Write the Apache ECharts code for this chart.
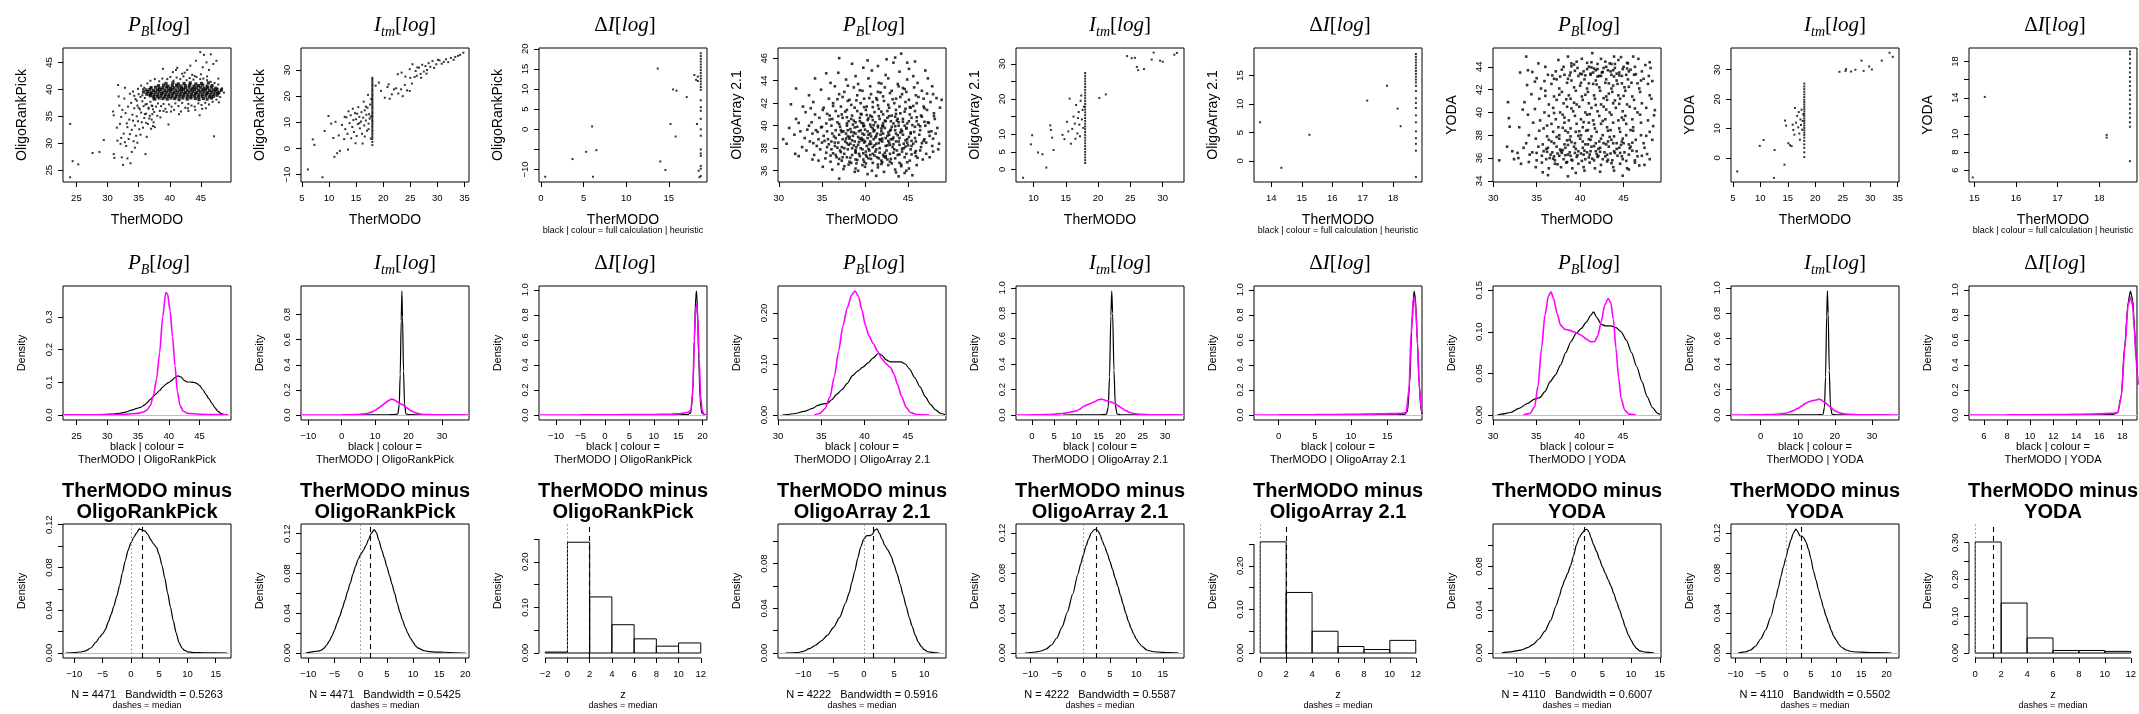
<!DOCTYPE html>
<html><head><meta charset="utf-8">
<script src="https://cdn.jsdelivr.net/npm/echarts@6.0.0/dist/echarts.min.js"></script>
<style>html,body{margin:0;padding:0;background:#fff}#c{width:2139px;height:714px}</style>
</head><body><div id="c"></div><script>
// ---------- names / texts ----------
const comparators = ['OligoRankPick', 'OligoArray 2.1', 'YODA'];
const measures = ['PB', 'Itm', 'DI'];
const bottomLines = ['N = 4471   Bandwidth = 0.5263', 'N = 4471   Bandwidth = 0.5425', 'z',
  'N = 4222   Bandwidth = 0.5916', 'N = 4222   Bandwidth = 0.5587', 'z',
  'N = 4110   Bandwidth = 0.6007', 'N = 4110   Bandwidth = 0.5502', 'z'];

// ---------- row 1: scatter values (flat x,y lists) ----------
const sc_orp_pb = [24.0,33.6,24.0,23.7,24.4,26.7,25.3,26.1,27.6,28.2,28.7,28.4,29.4,30.6,30.9,35.9,31.0,35.2,31.0,28.0,31.1,27.3,31.5,32.9,31.6,30.5,31.7,40.8,31.8,38.7,32.0,33.6,32.1,29.9,32.2,34.9,32.3,27.4,32.4,36.2,32.5,26.0,32.6,31.8,32.7,38.3,32.8,30.2,32.9,35.6,33.0,29.5,33.1,33.7,33.2,27.2,33.3,36.8,33.4,30.8,33.5,34.4,33.6,31.7,33.7,26.3,33.8,37.5,33.9,32.5,34.0,35.3,34.1,39.6,34.2,30.4,34.3,36.5,34.4,33.3,34.5,38.2,34.6,31.4,34.7,35.0,34.8,37.0,34.9,34.1,35.0,39.1,35.1,32.6,35.2,36.3,35.3,38.6,35.4,35.7,35.5,33.9,35.6,37.8,35.7,40.0,35.8,36.9,35.9,34.7,36.0,38.4,36.1,28.0,36.2,35.5,36.3,37.3,36.4,39.4,36.5,33.6,36.6,36.4,36.7,38.9,36.8,35.1,36.9,37.7,37.0,40.4,37.1,34.4,37.2,36.9,37.3,33.2,37.4,38.2,37.5,35.8,37.6,33.0,
35.6,38.9,35.9,40.3,36.1,37.2,36.4,41.1,36.6,36.6,36.9,41.6,37.1,37.0,37.3,36.3,37.6,41.9,37.8,36.8,38.1,37.4,38.3,41.5,38.6,36.9,38.8,42.0,39.0,37.3,39.3,36.4,39.6,41.9,39.9,37.2,40.1,42.3,40.3,36.8,40.6,41.6,40.9,37.4,41.1,42.2,41.4,36.9,41.7,41.9,42.0,37.5,42.2,42.4,42.5,36.6,42.7,41.7,43.0,37.3,43.2,42.1,43.5,37.0,43.8,41.8,44.0,36.8,44.3,42.3,44.6,37.4,44.9,41.9,45.1,37.1,45.4,42.0,45.7,37.5,46.0,41.7,46.3,37.2,46.6,41.4,46.9,37.7,47.2,41.2,47.5,38.1,47.8,40.9,48.1,38.6,48.4,40.2,48.7,39.4,48.2,39.8,47.9,37.6,45.2,36.4,44.1,36.2,42.9,36.5,41.8,35.9,40.7,36.2,39.5,35.8,38.4,36.0,37.2,35.4,36.7,34.6,36.2,33.8,35.7,32.9,35.3,31.6,34.8,30.1,34.4,29.2,33.9,28.4,36.3,31.2,37.0,32.7,37.4,33.9,38.0,35.1,35.0,36.6,34.7,37.9,34.3,38.8,34.9,40.1,35.4,40.7,33.6,39.2,32.8,40.3,31.9,37.0,32.2,31.0,33.2,33.0,34.1,34.2,36.0,35.4,38.9,43.8,42.4,43.1,41.0,43.6,
40.5,43.2,41.2,44.0,42.0,42.9,42.8,43.6,43.3,44.4,43.6,42.7,44.2,45.3,44.9,46.9,45.3,44.1,45.5,46.4,45.9,45.0,46.3,43.6,46.6,46.5,47.0,44.7,47.5,45.3,44.0,42.5,45.0,42.8,46.0,42.4,47.8,42.0,47.1,31.3,44.8,35.2,41.5,35.4,43.0,36.0,45.8,36.5,39.0,36.0,40.2,35.9,38.5,34.8,39.8,33.5];
const sc_orp_pb_core = [37.6,38.2,38.3,38.4,38.9,38.3,39.6,38.2,40.2,38.4,40.8,38.3,41.5,38.1,42.1,38.4,42.8,38.2,43.4,38.4,44.1,38.3,44.7,38.1,45.4,38.3,46.0,38.2,46.7,38.4,
36.9,38.8,37.4,38.6,38.0,38.7,38.6,38.8,39.2,38.6,39.8,38.7,40.4,38.8,41.0,38.6,41.6,38.7,42.2,38.8,42.8,38.6,43.4,38.7,44.0,38.8,44.6,38.6,45.2,38.7,45.8,38.8,46.4,38.6,47.0,38.7,47.6,38.9,
36.3,39.1,36.9,39.2,37.5,39.0,38.1,39.1,38.7,39.2,39.3,39.0,39.9,39.1,40.5,39.2,41.1,39.0,41.7,39.1,42.3,39.2,42.9,39.0,43.5,39.1,44.1,39.2,44.7,39.0,45.3,39.1,45.9,39.2,46.5,39.0,47.1,39.1,47.7,39.3,
35.8,39.5,36.5,39.6,37.1,39.4,37.7,39.5,38.3,39.6,38.9,39.4,39.5,39.5,40.1,39.6,40.7,39.4,41.3,39.5,41.9,39.6,42.5,39.4,43.1,39.5,43.7,39.6,44.3,39.4,44.9,39.5,45.5,39.6,46.1,39.4,46.7,39.5,47.3,39.6,47.9,39.4,
36.2,39.9,36.8,40.0,37.4,39.8,38.0,39.9,38.6,40.0,39.2,39.8,39.8,39.9,40.4,40.0,41.0,39.8,41.6,39.9,42.2,40.0,42.8,39.8,43.4,39.9,44.0,40.0,44.6,39.8,45.2,39.9,45.8,40.0,46.4,39.8,47.0,39.9,47.6,40.0,48.3,39.9,
37.0,40.3,37.7,40.4,38.3,40.2,38.9,40.3,39.5,40.4,40.1,40.2,40.7,40.3,41.3,40.4,41.9,40.2,42.5,40.3,43.1,40.4,43.7,40.2,44.3,40.3,44.9,40.4,45.5,40.2,46.1,40.3,46.7,40.4,47.4,40.2,
38.2,40.7,39.0,40.8,39.7,40.6,40.4,40.7,41.1,40.8,41.8,40.6,42.5,40.7,43.2,40.8,43.9,40.6,44.6,40.7,45.3,40.8,46.0,40.6,46.8,40.7,
39.4,41.1,40.5,41.2,41.4,41.0,42.3,41.1,43.3,41.2,44.2,41.0,45.1,41.1,46.2,41.2];
const sc_orp_itm = [6.1,-8.0,7.0,3.5,7.3,1.4,8.8,-11.0,9.2,6.7,9.9,12.4,10.4,9.5,11.0,-3.2,11.5,-1.8,11.8,5.0,12.0,-0.9,12.4,9.0,12.8,3.6,13.0,7.4,13.2,11.9,13.4,5.6,13.5,-0.4,13.8,9.7,14.0,12.7,14.1,3.9,14.3,8.2,14.5,10.9,14.6,6.3,14.8,13.5,15.0,11.2,15.1,4.8,15.3,9.3,15.4,15.8,15.6,12.1,15.7,7.7,15.9,10.3,16.0,13.9,16.1,5.6,16.3,11.8,16.4,17.9,16.5,8.8,16.6,14.6,16.8,10.7,16.9,12.9,17.0,6.8,17.1,15.6,17.2,20.5,17.3,9.5,17.4,13.1,17.5,11.4,17.6,16.8,17.7,3.8,17.7,12.2,17.8,18.9,12.9,12.1,13.6,14.2,14.9,2.0,16.2,1.9,11.2,10.2,10.8,4.0,15.6,9.7,16.6,4.6,17.3,7.4,14.4,15.2,15.2,13.3,16.8,16.0,
18,1.3,18,2.5,18,3.6,18,4.4,18,5.2,18,5.9,18,6.7,18,7.3,18,8.0,18,8.6,18,9.3,18,9.9,18,10.5,18,11.1,18,11.8,18,12.4,18,13.0,18,13.6,18,14.2,18,14.9,18,15.5,18,16.1,18,16.7,18,17.4,18,18.0,18,18.6,18,19.2,18,19.9,18,20.5,18,21.1,18,21.8,18,22.4,18,23.0,18,23.7,18,24.3,18,25.0,18,25.7,18,26.4,18,27.0,
18.6,24.0,19.2,25.2,19.6,22.0,20.3,19.4,20.8,23.5,21.2,19.0,21.6,20.7,22.0,22.6,22.4,23.0,22.8,21.0,23.3,22.6,23.6,20.0,24.0,24.3,24.4,22.2,24.9,22.0,25.3,24.8,22.7,28.4,23.4,29.0,24.1,27.5,24.9,30.3,25.4,32.2,25.8,27.3,26.0,29.6,26.3,31.0,26.6,30.9,26.9,28.5,27.2,32.0,27.5,29.4,27.8,31.5,28.1,30.0,28.4,32.6,28.7,31.2,29.1,33.4,29.4,30.8,29.8,32.2,30.1,33.9,30.4,33.7,30.8,32.4,31.2,33.1,31.6,34.1,32.0,33.0,32.5,34.6,33.0,33.9,33.3,35.0,33.8,35.4,34.2,35.8,34.8,36.6,21.0,24.5,26.2,27.8,25.0,27.0,27.0,27.0,28.0,28.6];
const sc_orp_di = [0.5,-11.8,3.7,-7.4,5.3,-5.6,6.0,0.7,6.1,-11.8,6.5,-5.2,13.7,15.1,14.0,-8.0,14.6,-10.1,15.2,1.3,15.5,9.9,15.9,9.6,15.8,-1.8,17.1,8.0,18.0,13.5,18.2,12.3,18.4,12.0,18.3,1.3,18.4,13.1,18.5,-10.3,18.6,-11.9,
18.75,9.8,18.75,10.5,18.75,11.2,18.75,11.9,18.75,12.6,18.75,13.3,18.75,14.0,18.75,14.7,18.75,15.4,18.75,16.1,18.75,16.8,18.75,17.5,18.75,18.2,18.75,18.9,
18.75,7.2,18.75,5.5,18.75,4.6,18.75,2.6,18.75,0.0,18.75,-1.6,18.75,-5.0,18.75,-6.0,18.75,-6.6,18.75,-9.1,18.75,-9.8,18.75,-11.6];
const sc_oa_pb = [37.0,35.3,44.6,35.8,40.3,35.7,43.9,35.5,42.2,35.9,38.8,35.9,45.5,35.6,
36.2,36.1,37.6,36.4,38.9,36.2,39.7,36.5,40.8,36.0,41.5,36.3,42.7,36.5,43.5,36.1,44.2,36.4,45.1,36.2,46.0,36.5,39.2,36.0,41.9,36.6,44.8,36.0,36.9,36.6,
34.6,36.9,35.4,37.1,36.0,36.8,36.7,37.2,37.3,36.9,37.9,37.2,38.4,36.7,38.9,37.0,39.4,37.3,39.9,36.8,40.4,37.1,40.9,36.7,41.4,37.2,41.9,36.9,42.4,37.3,42.9,36.8,43.5,37.1,44.0,36.7,44.6,37.2,45.2,36.9,45.9,37.3,46.7,37.0,47.5,37.2,32.3,37.3,33.9,37.0,
31.9,37.5,33.2,37.8,34.1,37.4,34.8,37.9,35.5,37.6,36.1,37.9,36.6,37.4,37.1,37.8,37.6,37.5,38.0,37.9,38.5,37.4,38.9,37.7,39.3,37.5,39.7,37.9,40.1,37.4,40.5,37.8,40.9,37.5,41.3,37.9,41.7,37.6,42.1,37.4,42.5,37.8,42.9,37.5,43.4,37.9,43.8,37.4,44.3,37.7,44.8,37.5,45.3,37.9,45.8,37.6,46.4,37.8,47.1,37.5,47.9,37.7,48.5,37.9,
30.9,38.4,32.7,38.1,33.6,38.6,34.4,38.2,35.0,38.5,35.6,38.1,36.1,38.6,36.5,38.2,36.9,38.5,37.3,38.1,37.7,38.6,38.1,38.3,38.5,38.0,38.8,38.6,39.2,38.3,39.5,38.0,39.9,38.5,40.2,38.2,40.6,38.6,40.9,38.1,41.3,38.4,41.7,38.0,42.0,38.6,42.4,38.2,42.8,38.5,43.2,38.1,43.6,38.6,44.0,38.3,44.5,38.0,44.9,38.5,45.4,38.2,45.9,38.6,46.5,38.1,47.1,38.5,47.8,38.2,48.6,38.4,
30.5,38.8,31.8,39.2,33.0,38.9,33.9,39.3,34.6,38.8,35.2,39.1,35.7,38.8,36.2,39.3,36.6,38.9,37.0,39.2,37.4,38.8,37.8,39.3,38.2,39.0,38.5,38.7,38.9,39.3,39.2,39.0,39.6,38.7,39.9,39.2,40.3,38.9,40.6,39.3,41.0,38.8,41.3,39.1,41.7,38.8,42.1,39.3,42.4,38.9,42.8,39.2,43.2,38.8,43.6,39.3,44.0,38.9,44.4,39.2,44.9,38.8,45.3,39.3,45.8,38.9,46.3,39.2,46.9,38.8,47.5,39.1,48.2,39.3,
31.2,39.8,32.5,39.5,33.5,40.0,34.3,39.6,35.0,39.9,35.6,39.5,36.1,40.0,36.6,39.6,37.1,39.9,37.5,39.5,37.9,40.0,38.3,39.7,38.7,39.4,39.1,39.9,39.5,39.6,39.9,40.0,40.3,39.5,40.7,39.9,41.1,39.6,41.5,40.0,41.9,39.5,42.3,39.8,42.7,39.4,43.1,39.9,43.5,39.6,43.9,40.0,44.3,39.5,44.8,39.8,45.3,39.4,45.8,39.9,46.4,39.6,47.0,40.0,47.7,39.5,48.4,39.8,
32.0,40.6,33.8,40.3,34.7,40.7,35.5,40.2,36.2,40.6,36.8,40.3,37.4,40.7,37.9,40.2,38.4,40.6,38.9,40.3,39.4,40.7,39.8,40.2,40.3,40.5,40.8,40.8,41.2,40.3,41.7,40.6,42.1,40.2,42.6,40.7,43.0,40.4,43.5,40.8,43.9,40.3,44.4,40.6,44.9,40.2,45.4,40.7,46.0,40.4,46.6,40.8,47.3,40.3,48.1,40.6,
31.4,41.9,33.1,41.2,34.2,41.0,35.1,41.4,35.9,40.9,36.6,41.3,37.3,41.0,37.9,41.4,38.5,40.9,39.1,41.3,39.6,41.0,40.1,41.4,40.6,40.9,41.1,41.2,41.6,41.5,42.1,41.0,42.6,41.3,43.1,40.9,43.6,41.4,44.1,41.1,44.7,41.5,45.2,41.0,45.8,41.3,46.5,40.9,47.2,41.4,48.0,41.1,
32.8,41.7,34.0,42.1,35.2,41.6,36.3,42.0,37.2,41.7,38.0,42.2,38.8,41.6,39.5,42.0,40.2,41.7,40.9,42.1,41.5,41.8,42.2,42.2,42.8,41.6,43.4,42.0,44.0,41.7,44.7,42.1,45.3,41.6,46.0,42.0,46.8,41.7,47.6,42.1,48.7,41.6,
33.5,42.7,35.8,42.4,37.0,42.8,38.2,42.3,39.1,42.7,39.9,42.4,40.7,42.8,41.4,42.3,42.1,42.6,42.9,42.9,43.6,42.4,44.3,42.8,45.1,42.3,45.9,42.7,46.8,42.4,47.9,42.8,48.9,42.3,
34.9,43.2,36.5,43.5,37.6,43.0,38.7,43.4,39.7,43.1,40.6,43.5,41.5,43.0,42.3,43.4,43.1,43.1,43.9,43.5,44.8,43.0,45.7,43.4,46.6,43.1,47.8,43.5,32.0,43.3,
34.2,44.2,36.0,43.8,37.8,44.1,39.2,43.7,40.4,44.2,41.6,43.8,42.7,44.2,43.8,43.7,44.9,44.1,46.1,43.8,47.3,44.2,
36.9,44.7,38.9,44.4,40.8,44.9,42.4,44.5,44.0,44.8,45.6,44.4,47.0,44.9,
37.0,46.0,38.5,45.5,41.5,45.3,43.3,45.6,44.2,46.4,44.9,45.6,45.8,45.7,42.5,45.9,40.3,45.8,
38.3,38.4,39.0,38.1,39.6,38.9,40.1,37.7,40.7,38.4,41.2,37.7,41.8,38.7,42.3,37.6,43.0,38.8,43.7,37.8,38.0,39.6,38.6,40.1,39.3,39.5,40.0,38.6,40.6,40.1,41.4,39.3,42.0,40.0,42.6,39.1,43.3,40.2,44.1,39.4,37.6,38.0,38.9,37.6,39.8,37.0,40.6,37.4,41.6,37.1,42.6,37.0,43.3,37.6,44.5,38.4,45.1,39.0,45.6,38.4,36.5,38.5,37.2,39.6,38.1,40.4,39.4,40.4,40.9,40.5,42.4,40.4,43.8,40.6,44.6,40.0,45.1,40.4,46.2,40.1,38.6,39.1,39.7,39.3,40.4,39.2,41.0,39.5,41.8,39.2,42.9,38.3,43.9,38.6,44.7,38.7,37.4,37.2,38.2,36.8,
36.8,38.05,37.9,38.45,38.7,38.25,39.4,38.85,40.0,39.65,40.5,38.35,41.2,38.95,41.9,39.75,42.6,38.25,43.3,38.95,44.2,39.65,45.0,38.25,45.7,39.45,46.6,38.45,37.3,39.45,38.0,39.05,38.8,39.85,39.6,40.25,40.4,40.65,41.0,40.05,41.6,40.85,42.3,40.45,43.0,39.65,43.7,40.45,44.6,41.25,45.5,40.05,36.9,40.85,37.7,41.25,38.3,37.15,39.0,36.65,39.8,37.55,40.7,37.05,41.5,36.55,42.2,37.25,43.1,36.65,44.0,37.45,44.9,36.75,36.0,37.35,35.3,38.65,34.5,39.45,35.9,40.55,36.8,42.35,38.4,41.85,39.9,41.65,41.3,42.45,42.7,41.85,44.1,42.55,45.6,41.75,46.9,40.35,47.4,39.45,47.9,38.85,46.1,37.15,40.0,36.35,37.5,36.15,35.1,36.35,43.6,35.85,41.3,35.55,39.4,43.15,41.9,43.75,44.4,43.35,46.2,42.55,38.0,43.55,36.3,41.75,33.7,41.55,34.0,38.45,33.3,39.65,32.3,40.25,48.0,40.85,48.3,42.45,47.2,42.85,35.5,44.65,43.5,46.05,39.8,45.15,45.1,45.05,
37.2,37.65,37.8,38.85,38.4,39.45,38.9,37.85,39.3,38.55,39.8,39.95,40.2,37.25,40.7,39.05,41.1,38.25,41.5,39.85,42.0,38.85,42.4,37.15,42.9,39.55,43.3,38.35,43.8,39.15,44.3,37.95,44.8,39.75,45.4,38.65,45.9,37.75,46.4,39.95,37.0,40.15,37.9,40.75,38.7,40.45,39.5,41.05,40.2,40.95,40.9,41.65,41.9,41.25,42.8,40.85,43.6,41.05,44.4,40.35,45.2,41.65,46.0,40.75,36.4,39.05,35.8,38.35,36.3,37.55,37.0,37.05,38.1,36.55,39.1,36.95,40.1,36.65,41.1,37.35,42.0,36.75,43.0,37.05,44.2,36.55,45.4,37.45,46.8,38.65,47.4,40.25,46.9,41.55,39.0,42.25,40.5,42.45,41.8,42.95,43.2,42.35,44.6,43.25,37.4,42.55,35.6,41.05,34.9,39.85,39.8,38.75,40.9,39.75,42.1,39.95,43.5,39.95,38.2,38.85,41.6,38.45,44.7,38.15,40.4,37.95,42.7,38.65];
const sc_oa_itm = [8.4,-2.4,9.8,9.7,9.6,7.1,10.7,4.8,11.4,4.3,12.0,0.5,12.6,12.5,12.7,11.2,12.9,9.0,13.1,5.5,14.5,9.8,14.8,8.6,15.2,13.5,15.6,20.1,15.8,7.3,16.0,11.5,16.2,15.0,16.4,13.0,16.6,18.3,16.8,10.2,17.0,16.3,17.1,12.7,17.2,9.4,17.3,19.5,17.5,14.2,17.6,16.9,17.7,11.8,17.4,21.0,16.9,14.6,16.5,8.7,15.4,10.8,17.8,17.8,
18,1.8,18,2.6,18,3.4,18,4.2,18,5.0,18,5.8,18,6.6,18,7.4,18,8.2,18,9.0,18,9.8,18,10.6,18,11.4,18,12.2,18,13.0,18,13.8,18,14.6,18,15.4,18,16.2,18,17.0,18,17.8,18,18.6,18,19.4,18,20.2,18,21.0,18,21.8,18,22.6,18,23.4,18,24.2,18,25.0,18,25.8,18,26.6,18,27.4,
20.2,20.3,21.2,21.3,24.5,32.2,25.2,31.6,25.7,31.7,26.0,29.1,26.2,28.2,27.1,28.5,28.3,31.2,28.6,33.2,29.6,30.9,30.0,30.6,31.8,32.6,32.2,33.1];
const sc_oa_di = [13.63,6.8,14.33,-1.2,15.25,4.6,17.15,10.6,17.8,13.2,18.15,9.2,18.25,6.1,
18.75,13.8,18.75,14.3,18.75,14.8,18.75,15.3,18.75,15.8,18.75,16.3,18.75,16.8,18.75,17.3,18.75,17.8,18.75,18.3,18.75,18.8,
18.75,13.2,18.75,12.3,18.75,11.0,18.75,10.2,18.75,9.3,18.75,8.0,18.75,6.8,18.75,5.2,18.75,4.0,18.75,3.0,18.75,1.8,18.75,-2.8];
const sc_yoda_pb = [36.3,34.5,38.6,34.4,40.5,34.9,42.3,34.8,43.9,34.9,45.6,35.0,39.5,34.7,
33.2,35.5,34.9,35.2,35.6,35.6,36.4,35.1,37.1,35.5,37.8,35.2,38.4,35.6,39.1,35.1,39.8,35.5,40.4,35.2,41.1,35.6,41.7,35.1,42.4,35.4,43.1,35.7,43.8,35.2,44.6,35.5,45.4,35.1,46.3,35.6,47.4,35.4,30.7,35.8,32.4,35.9,
32.9,36.0,34.2,36.3,35.0,35.8,35.6,36.2,36.1,35.9,36.6,36.3,37.1,35.8,37.6,36.2,38.1,35.9,38.6,36.3,39.1,35.8,39.6,36.1,40.1,36.4,40.6,35.9,41.1,36.3,41.6,35.8,42.1,36.2,42.6,35.9,43.1,36.3,43.7,35.8,44.3,36.2,44.9,35.9,45.6,36.3,46.3,35.8,47.1,36.2,48.0,35.9,
32.2,36.6,33.5,36.9,34.5,36.5,35.2,37.0,35.8,36.6,36.3,36.9,36.8,36.5,37.3,37.0,37.8,36.6,38.3,36.9,38.8,36.5,39.3,37.0,39.8,36.6,40.3,36.9,40.8,36.5,41.3,37.0,41.8,36.6,42.3,36.9,42.8,36.5,43.3,37.0,43.9,36.6,44.5,36.9,45.1,36.5,45.8,37.0,46.5,36.6,47.4,36.9,31.6,37.0,
33.8,37.3,34.9,37.7,35.7,37.2,36.4,37.6,37.0,37.3,37.6,37.7,38.2,37.2,38.8,37.6,39.4,37.3,40.0,37.7,40.6,37.2,41.2,37.6,41.8,37.3,42.4,37.7,43.0,37.2,43.6,37.6,44.2,37.3,44.9,37.7,45.6,37.2,46.4,37.6,47.3,37.3,48.3,37.6,
34.1,38.0,35.3,38.4,36.2,37.9,36.9,38.3,37.6,38.0,38.3,38.4,38.9,37.9,39.5,38.3,40.1,38.0,40.7,38.4,41.3,37.9,41.9,38.3,42.6,38.0,43.2,38.4,43.9,37.9,44.6,38.3,45.3,38.0,46.1,38.4,47.0,38.0,48.0,38.3,
33.0,38.7,34.6,39.1,35.8,38.6,36.7,39.0,37.5,38.7,38.2,39.1,38.9,38.6,39.6,39.0,40.3,38.7,41.0,39.1,41.7,38.6,42.4,39.0,43.1,38.7,43.8,39.1,44.5,38.6,45.3,39.0,46.1,38.7,47.0,39.1,48.4,38.8,
31.8,39.5,34.0,39.8,35.4,39.3,36.4,39.7,37.2,39.4,38.0,39.8,38.7,39.3,39.4,39.7,40.1,39.4,40.8,39.8,41.5,39.3,42.2,39.7,42.9,39.4,43.6,39.8,44.4,39.3,45.2,39.7,46.0,39.4,46.9,39.8,47.8,39.3,
34.8,40.3,35.9,40.0,36.9,40.4,37.7,40.0,38.5,40.5,39.2,40.1,39.9,40.5,40.6,40.0,41.3,40.4,42.0,40.1,42.7,40.5,43.4,40.0,44.1,40.4,44.9,40.1,45.7,40.5,46.6,40.0,47.6,40.4,48.6,40.2,
33.6,40.9,35.3,41.2,36.4,40.7,37.3,41.1,38.1,40.8,38.9,41.2,39.6,40.7,40.3,41.1,41.0,40.8,41.7,41.2,42.4,40.7,43.1,41.1,43.8,40.8,44.6,41.2,45.4,40.7,46.2,41.1,47.1,40.8,48.2,41.2,31.7,40.9,
34.4,41.6,36.0,41.9,37.0,41.4,37.9,41.8,38.7,41.5,39.5,41.9,40.2,41.4,40.9,41.8,41.6,41.5,42.3,41.9,43.0,41.4,43.7,41.8,44.4,41.5,45.2,41.9,46.0,41.4,46.9,41.8,48.0,41.5,
33.9,42.4,35.5,42.1,36.7,42.5,37.6,42.1,38.5,42.6,39.3,42.2,40.1,42.6,40.8,42.1,41.5,42.5,42.2,42.2,42.9,42.6,43.6,42.1,44.3,42.5,45.1,42.2,45.9,42.6,46.8,42.1,47.8,42.5,34.8,42.7,
33.1,43.5,35.0,43.0,36.3,43.3,37.3,42.9,38.2,43.3,39.0,42.8,39.8,43.2,40.5,42.9,41.2,43.3,41.8,42.8,42.4,43.2,43.0,42.9,43.6,43.3,44.2,42.8,44.8,43.2,45.5,42.9,46.2,43.3,47.0,42.8,47.9,43.2,
34.0,43.7,36.0,44.0,37.2,43.6,38.1,44.0,38.9,43.5,39.7,43.9,40.4,43.6,41.0,44.0,41.5,43.5,42.0,43.8,42.5,43.5,43.0,44.0,43.5,43.6,44.0,43.9,44.5,43.5,45.0,44.0,45.6,43.6,46.3,44.0,47.1,43.6,48.1,43.9,41.8,43.7,43.8,43.7,
35.2,44.3,37.5,44.6,39.0,44.3,40.2,44.7,41.3,44.4,42.4,44.7,43.4,44.3,44.4,44.6,45.5,44.3,46.7,44.7,48.0,44.4,
38.6,44.9,41.4,45.2,43.9,44.9,46.1,44.9,33.8,44.9,
36.5,36.0,37.4,36.4,38.0,36.7,38.9,36.2,39.5,36.8,40.4,36.3,41.2,36.6,42.0,36.1,42.7,37.3,43.5,36.4,44.2,36.8,45.0,37.3,36.1,36.8,39.0,37.4,40.9,37.2,42.1,36.8,43.8,37.3,41.2,43.4,42.7,43.9,44.2,43.4,40.0,43.4,43.2,43.7,45.3,43.3,39.3,44.2,42.2,43.2,44.9,43.8,40.8,43.8,
36.2,36.55,37.0,36.15,37.9,36.45,38.5,35.65,39.4,36.45,40.2,35.75,41.0,36.05,41.9,36.35,42.9,36.15,43.6,35.55,44.6,36.45,45.3,35.75,46.0,36.65,47.7,36.35,36.7,37.45,37.4,35.45,38.6,37.15,40.3,37.45,41.6,37.05,43.2,37.45,44.7,37.15,46.0,37.35,35.0,36.45,34.1,35.65,38.0,38.65,39.9,38.35,41.6,38.95,43.5,38.45,45.0,39.35,37.0,39.95,39.0,40.35,41.1,39.85,43.0,40.25,44.5,40.75,36.0,41.45,38.4,41.15,40.6,41.55,42.7,41.25,45.0,41.45,37.0,42.95,38.6,42.95,40.2,43.35,41.0,42.55,42.0,44.25,43.3,42.55,44.0,44.25,44.8,42.55,45.8,43.75,46.6,42.55,47.5,44.15,40.8,44.35,42.9,44.45,44.7,44.85,39.4,43.65,37.7,43.15,35.9,42.75,34.5,43.55,32.8,36.45,31.9,38.75,33.4,40.25,48.3,42.75,48.5,39.75,47.6,37.95,46.8,35.35,35.7,34.75,44.9,34.45,42.0,43.15,43.9,43.15,41.3,43.95,39.0,44.05,45.4,44.35,
36.9,35.95,37.7,36.75,38.3,36.25,39.0,35.85,39.7,36.25,40.5,36.65,41.4,35.95,42.3,36.55,43.2,35.85,44.0,36.45,44.8,36.15,45.7,36.85,46.6,36.15,37.3,37.85,38.5,37.55,39.8,37.95,41.0,37.65,42.2,37.45,43.4,37.85,44.8,37.45,36.8,43.25,37.9,43.75,38.8,43.25,39.6,44.45,40.6,43.25,41.6,43.85,42.6,43.55,43.6,44.25,44.5,43.25,45.4,43.85,46.4,43.35,47.3,42.95,40.0,42.35,41.9,42.45,43.8,42.35,45.6,42.25,38.2,39.55,40.4,39.15,42.6,39.25,44.8,39.55,39.3,40.85,41.8,40.65,44.0,41.05,46.3,40.35,37.6,41.55,43.3,41.65,40.9,38.45,38.6,38.25,45.8,38.45,36.2,38.85];
const sc_yoda_itm = [5.8,-4.6,12.5,-6.8,9.9,4.1,10.6,6.1,12.6,2.7,14.4,-2.3,14.5,12.7,14.7,11.0,15.1,5.0,15.4,4.3,15.7,4.0,16.0,9.5,16.3,17.0,16.5,12.0,16.7,14.3,16.9,10.4,17.0,15.6,17.1,8.3,17.3,13.1,17.4,11.2,17.5,16.4,17.6,9.6,17.7,12.6,17.8,14.8,16.2,7.9,15.9,11.3,17.2,6.2,
18,0.3,18,1.9,18,3.4,18,4.6,18,5.8,18,6.9,18,7.8,18,8.6,18,9.4,18,10.2,18,11.0,18,11.8,18,12.6,18,13.4,18,14.2,18,15.0,18,15.8,18,16.6,18,17.4,18,18.2,18,19.0,18,19.8,18,20.7,18,21.6,18,22.5,18,23.4,18,24.3,18,25.3,
24.4,29.3,25.5,29.6,25.6,30.2,26.5,29.4,27.3,30.0,28.4,33.1,28.8,29.6,29.8,31.1,30.3,30.1,32.1,33.1,33.5,35.8,34.1,34.4];
const sc_yoda_di = [14.96,5.2,15.25,14.1,18.18,9.6,18.18,9.9,18.74,7.0,
18.74,10.8,18.74,11.3,18.74,11.8,18.74,12.3,18.74,12.8,18.74,13.3,18.74,13.8,18.74,14.3,18.74,14.8,18.74,15.3,18.74,15.8,18.74,16.3,18.74,16.8,18.74,17.3,18.74,17.8,18.74,18.3,18.74,18.8,18.74,19.1];

// ---------- row 2: densities (black = TherMODO, magenta = comparator) ----------
const dn_orp_pb_k = [[23.0,0],[26,0.0005],[28,0.001],[30,0.002],[31,0.003],[32,0.005],[33,0.009],[34,0.015],[34.8,0.02],[35.5,0.024],[36,0.03],[36.5,0.038],[37,0.048],[37.5,0.057],[38,0.066],[38.5,0.075],[39,0.085],[39.5,0.094],[40,0.1],[40.5,0.106],[41,0.115],[41.5,0.12],[42,0.116],[42.5,0.106],[43,0.101],[43.5,0.101],[44,0.1],[44.5,0.097],[45,0.09],[45.5,0.078],[46,0.064],[46.5,0.05],[47,0.036],[47.5,0.022],[48,0.011],[48.5,0.004],[49,0.001],[49.6,0]];
const dn_orp_pb_m = [[22.9,0],[26,0.0005],[30,0.001],[33,0.002],[35,0.005],[36,0.01],[36.5,0.016],[37,0.03],[37.5,0.06],[38,0.11],[38.5,0.19],[39,0.3],[39.5,0.375],[39.8,0.37],[40.2,0.32],[40.6,0.24],[41,0.15],[41.4,0.07],[41.8,0.03],[42.3,0.012],[43,0.005],[45,0.002],[48,0.001],[49.6,0]];
const dn_orp_itm_k = [[5,0],[10,0.001],[14,0.002],[16,0.004],[16.8,0.01],[17.2,0.08],[17.5,0.32],[17.8,0.75],[18.0,0.987],[18.2,0.78],[18.5,0.35],[18.8,0.09],[19.2,0.01],[20,0.003],[25,0.001],[37,0]];
const dn_orp_itm_m = [[-12,0],[-5,0.0005],[0,0.001],[3,0.002],[5,0.004],[7,0.01],[8,0.016],[9,0.025],[10,0.038],[11,0.055],[12,0.075],[13,0.095],[14,0.115],[14.8,0.127],[15.4,0.125],[16,0.117],[16.6,0.105],[17.2,0.094],[18,0.086],[18.6,0.075],[19.2,0.062],[20,0.047],[21,0.031],[22,0.019],[23,0.011],[24,0.006],[26,0.003],[30,0.001],[38,0]];
const dn_orp_di_k = [[-1,0],[5,0.0005],[10,0.001],[15,0.002],[17,0.004],[17.6,0.02],[18.0,0.18],[18.3,0.6],[18.6,0.95],[18.75,0.99],[18.95,0.85],[19.2,0.45],[19.5,0.12],[19.8,0.02],[20.3,0.002],[20.8,0]];
const dn_orp_di_m = [[-13.4,0],[-5,0.001],[0,0.002],[5,0.003],[10,0.004],[13,0.006],[15,0.01],[16,0.015],[17,0.022],[17.6,0.035],[18.0,0.2],[18.3,0.6],[18.6,0.86],[18.8,0.88],[19.0,0.78],[19.3,0.45],[19.6,0.15],[19.9,0.04],[20.3,0.005],[20.8,0]];
const dn_oa_pb_k = [[30.5,0],[31,0.001],[32,0.003],[33,0.007],[34,0.013],[34.6,0.019],[35.2,0.022],[35.7,0.023],[36.2,0.03],[36.8,0.041],[37.4,0.05],[38,0.062],[38.6,0.077],[39.2,0.086],[39.8,0.094],[40.4,0.102],[41,0.112],[41.6,0.121],[42,0.117],[42.5,0.108],[43,0.104],[43.6,0.104],[44.2,0.104],[44.7,0.1],[45.2,0.09],[45.8,0.073],[46.4,0.055],[47,0.036],[47.6,0.021],[48.2,0.01],[48.8,0.003],[49.3,0.0005]];
const dn_oa_pb_m = [[34.2,0],[34.8,0.003],[35.4,0.012],[36,0.035],[36.5,0.075],[37,0.125],[37.5,0.175],[38,0.21],[38.5,0.235],[38.9,0.243],[39.3,0.232],[39.7,0.205],[40.1,0.175],[40.5,0.155],[41,0.14],[41.5,0.125],[42,0.11],[42.5,0.1],[43,0.093],[43.4,0.08],[43.8,0.06],[44.3,0.035],[44.8,0.015],[45.3,0.005],[46,0.001],[47.5,0]];
const dn_oa_itm_k = [[7,0],[12,0.001],[15,0.002],[16.8,0.006],[17.2,0.06],[17.5,0.3],[17.8,0.78],[18,0.975],[18.2,0.8],[18.5,0.35],[18.8,0.08],[19.2,0.008],[20,0.002],[25,0.001],[34,0]];
const dn_oa_itm_m = [[-3.5,0],[0,0.001],[3,0.003],[5,0.006],[7,0.012],[8,0.018],[9,0.025],[10,0.033],[10.8,0.045],[11.5,0.065],[12.3,0.078],[13,0.088],[14,0.103],[15,0.12],[15.6,0.125],[16.2,0.12],[16.8,0.112],[17.5,0.105],[18,0.1],[18.8,0.088],[19.5,0.072],[20.2,0.055],[21,0.038],[22,0.022],[23,0.012],[24.5,0.005],[27,0.002],[34,0.0005]];
const dn_oa_di_k = [[13,0],[16,0.002],[17.4,0.006],[17.8,0.03],[18.1,0.25],[18.4,0.72],[18.7,0.99],[18.9,0.93],[19.15,0.6],[19.4,0.25],[19.65,0.05],[19.8,0.01]];
const dn_oa_di_m = [[-3.4,0],[0,0.001],[5,0.003],[10,0.006],[14,0.009],[17,0.013],[17.6,0.02],[18,0.2],[18.3,0.65],[18.6,0.92],[18.75,0.94],[18.95,0.85],[19.2,0.55],[19.45,0.22],[19.7,0.05],[19.8,0.02]];
const dn_yoda_pb_k = [[30.5,0],[31,0.001],[32,0.003],[33,0.008],[34,0.014],[34.8,0.019],[35.4,0.021],[36,0.028],[36.6,0.04],[37.2,0.048],[37.8,0.06],[38.4,0.075],[39,0.088],[39.6,0.098],[40.2,0.104],[40.8,0.112],[41.3,0.12],[41.6,0.124],[42,0.117],[42.5,0.109],[43,0.107],[43.6,0.107],[44.2,0.105],[44.8,0.1],[45.4,0.09],[46,0.075],[46.6,0.058],[47.2,0.04],[47.8,0.022],[48.4,0.009],[49,0.002],[49.3,0.0005]];
const dn_yoda_pb_m = [[33.5,0],[34.3,0.002],[34.8,0.01],[35.2,0.035],[35.6,0.08],[36,0.12],[36.4,0.143],[36.7,0.148],[37,0.14],[37.4,0.122],[37.8,0.108],[38.3,0.103],[38.8,0.102],[39.3,0.1],[39.8,0.098],[40.3,0.095],[40.8,0.091],[41.3,0.088],[41.7,0.088],[42.1,0.095],[42.5,0.112],[42.9,0.132],[43.3,0.14],[43.6,0.135],[43.9,0.115],[44.2,0.08],[44.5,0.045],[44.8,0.02],[45.2,0.006],[45.7,0.001],[46.5,0]];
const dn_yoda_itm_k = [[5,0],[12,0.001],[15,0.002],[16.8,0.006],[17.2,0.06],[17.5,0.3],[17.8,0.78],[18,0.975],[18.2,0.8],[18.5,0.35],[18.8,0.08],[19.2,0.008],[20,0.002],[25,0.001],[35,0]];
const dn_yoda_itm_m = [[-8,0],[-3,0.001],[0,0.002],[3,0.004],[5,0.008],[7,0.016],[8,0.026],[9,0.038],[10,0.052],[11,0.07],[12,0.09],[13,0.105],[14,0.113],[15,0.118],[15.7,0.125],[16.3,0.12],[17,0.105],[17.7,0.09],[18.4,0.072],[19.2,0.05],[20,0.033],[21,0.02],[22,0.012],[24,0.005],[27,0.002],[31,0.001],[37,0]];
const dn_yoda_di_k = [[14.5,0],[16,0.002],[17.2,0.006],[17.6,0.02],[17.9,0.15],[18.2,0.55],[18.5,0.9],[18.7,0.99],[18.9,0.92],[19.05,0.7],[19.2,0.45],[19.35,0.25]];
const dn_yoda_di_m = [[4.7,0],[8,0.001],[12,0.003],[14,0.006],[16,0.01],[17,0.013],[17.6,0.02],[17.9,0.14],[18.2,0.52],[18.5,0.88],[18.7,0.94],[18.9,0.87],[19.05,0.66],[19.2,0.43],[19.35,0.24]];

// ---------- row 3: differences (density / histogram) and medians ----------
const df_orp_pb = [[-11.5,0],[-10,0.0005],[-9,0.001],[-8,0.002],[-7,0.005],[-6.2,0.01],[-5.5,0.015],[-5,0.018],[-4.5,0.022],[-4,0.029],[-3.5,0.036],[-3,0.044],[-2.5,0.053],[-2,0.063],[-1.5,0.075],[-1,0.086],[-0.5,0.096],[0,0.103],[0.5,0.108],[1,0.112],[1.5,0.116],[2,0.115],[2.5,0.114],[3,0.111],[3.5,0.106],[4,0.102],[4.5,0.099],[5,0.092],[5.5,0.082],[6,0.07],[6.5,0.056],[7,0.043],[7.5,0.03],[8,0.019],[8.5,0.01],[9,0.005],[9.5,0.0025],[10,0.0012],[11,0.0005],[13,0.0002],[17,0]];
const df_orp_itm = [[-10.5,0],[-9.5,0.001],[-8.5,0.0018],[-8,0.002],[-7.5,0.003],[-7,0.005],[-6.5,0.008],[-6,0.012],[-5.5,0.017],[-5,0.023],[-4.5,0.03],[-4,0.037],[-3.5,0.045],[-3,0.053],[-2.5,0.062],[-2,0.07],[-1.5,0.079],[-1,0.087],[-0.5,0.094],[0,0.099],[0.5,0.103],[1,0.108],[1.5,0.114],[2,0.12],[2.6,0.124],[3,0.121],[3.5,0.113],[4,0.104],[4.5,0.096],[5,0.087],[5.5,0.078],[6,0.069],[6.5,0.06],[7,0.05],[7.5,0.041],[8,0.033],[8.5,0.026],[9,0.02],[9.5,0.015],[10,0.011],[10.5,0.007],[11,0.005],[12,0.0025],[13,0.0015],[14.5,0.001],[16,0.0008],[18,0.0003],[20,0]];
const df_oa_pb = [[-13,0],[-11,0.0005],[-10,0.0015],[-9,0.004],[-8,0.007],[-7,0.011],[-6,0.016],[-5,0.023],[-4,0.032],[-3,0.045],[-2.4,0.054],[-2,0.063],[-1.5,0.073],[-1,0.085],[-0.5,0.095],[0,0.102],[0.5,0.105],[1,0.105],[1.4,0.106],[1.8,0.11],[2.2,0.111],[2.6,0.107],[3,0.102],[3.5,0.096],[4,0.092],[4.5,0.087],[5,0.079],[5.5,0.071],[6,0.062],[6.5,0.052],[7,0.042],[7.5,0.032],[8,0.024],[8.5,0.016],[9,0.01],[9.5,0.006],[10,0.003],[10.6,0.0012],[11.5,0.0004],[12.5,0]];
const df_oa_itm = [[-11,0],[-10,0.0005],[-9,0.001],[-8,0.002],[-7,0.004],[-6,0.008],[-5,0.015],[-4,0.026],[-3,0.041],[-2,0.059],[-1,0.079],[-0.5,0.089],[0,0.098],[0.5,0.107],[1,0.114],[1.5,0.12],[2,0.123],[2.4,0.124],[2.8,0.122],[3.2,0.118],[3.6,0.112],[4,0.107],[4.5,0.1],[5,0.092],[5.5,0.084],[6,0.075],[6.5,0.067],[7,0.058],[7.5,0.049],[8,0.04],[8.5,0.032],[9,0.025],[9.5,0.019],[10,0.014],[10.5,0.01],[11,0.007],[12,0.003],[13,0.0015],[14,0.001],[16,0.0003],[18,0]];
const df_yoda_pb = [[-12.5,0],[-11,0.001],[-10,0.002],[-9,0.003],[-8,0.005],[-7,0.008],[-6,0.013],[-5,0.02],[-4,0.03],[-3,0.044],[-2.5,0.052],[-2,0.061],[-1.5,0.068],[-1,0.074],[-0.5,0.081],[0,0.09],[0.5,0.1],[1,0.107],[1.5,0.111],[2,0.114],[2.3,0.1145],[2.7,0.112],[3,0.107],[3.5,0.1],[4,0.094],[4.5,0.087],[5,0.08],[5.5,0.074],[6,0.068],[6.5,0.062],[7,0.055],[7.5,0.047],[8,0.04],[8.5,0.032],[9,0.024],[9.5,0.017],[10,0.012],[10.5,0.007],[11,0.004],[11.5,0.002],[12.5,0.0008],[14,0]];
const df_yoda_itm = [[-9.5,0],[-8.5,0.0008],[-8,0.0012],[-7,0.003],[-6,0.007],[-5,0.014],[-4,0.023],[-3,0.036],[-2,0.055],[-1.5,0.065],[-1,0.076],[-0.5,0.086],[0,0.095],[0.5,0.105],[1,0.113],[1.5,0.12],[2,0.124],[2.4,0.121],[2.8,0.117],[3.2,0.117],[3.6,0.115],[4,0.111],[4.5,0.104],[5,0.094],[5.5,0.082],[6,0.073],[6.5,0.063],[7,0.054],[7.5,0.045],[8,0.037],[8.5,0.03],[9,0.023],[9.5,0.017],[10,0.013],[10.5,0.009],[11,0.006],[12,0.003],[13,0.0015],[14,0.001],[16,0.0006],[18,0.0003],[21,0]];
const hist_breaks_orp = [-2,0,2,4,6,8,10,12];
const hist_breaks_other = [0,2,4,6,8,10,12];
const hist_orp = [0.002,0.243,0.123,0.062,0.031,0.015,0.022];
const hist_oa = [0.255,0.139,0.05,0.015,0.008,0.029];
const hist_yoda = [0.302,0.136,0.041,0.007,0.007,0.0045];
const medians = [2.0, 1.9, 2.0, 1.6, 2.4, 2.0, 1.8, 3.0, 1.4];

// ---------- tick values / labels ----------
const T = {
  r1: [
    {xt:[25,30,35,40,45], yt:[25,30,35,40,45]},
    {xt:[5,10,15,20,25,30,35], yt:[-10,0,10,20,30]},
    {xt:[0,5,10,15], yt:[-10,-5,0,5,10,15,20], yl:[-10,0,5,10,15,20]},
    {xt:[30,35,40,45], yt:[36,38,40,42,44,46]},
    {xt:[10,15,20,25,30], yt:[0,5,10,15,20,25,30], yl:[0,5,10,20,30]},
    {xt:[14,15,16,17,18], yt:[0,5,10,15]},
    {xt:[30,35,40,45], yt:[34,36,38,40,42,44]},
    {xt:[5,10,15,20,25,30,35], yt:[0,10,20,30]},
    {xt:[15,16,17,18], yt:[6,8,10,12,14,16,18], yl:[6,8,10,14,18]}
  ],
  r2: [
    {xt:[25,30,35,40,45], yt:[0,0.1,0.2,0.3], yd:1},
    {xt:[-10,0,10,20,30], yt:[0,0.2,0.4,0.6,0.8], yd:1},
    {xt:[-10,-5,0,5,10,15,20], yt:[0,0.2,0.4,0.6,0.8,1.0], yd:1},
    {xt:[30,35,40,45], yt:[0,0.05,0.1,0.15,0.2], yl:[0,0.1,0.2], yd:2},
    {xt:[0,5,10,15,20,25,30], yt:[0,0.2,0.4,0.6,0.8,1.0], yd:1},
    {xt:[0,5,10,15], yt:[0,0.2,0.4,0.6,0.8,1.0], yd:1},
    {xt:[30,35,40,45], yt:[0,0.05,0.1,0.15], yd:2},
    {xt:[0,10,20,30], yt:[0,0.2,0.4,0.6,0.8,1.0], yd:1},
    {xt:[6,8,10,12,14,16,18], yt:[0,0.2,0.4,0.6,0.8,1.0], yd:1}
  ],
  r3: [
    {xt:[-10,-5,0,5,10,15], yt:[0,0.02,0.04,0.06,0.08,0.1,0.12], yl:[0,0.04,0.08,0.12], yd:2},
    {xt:[-10,-5,0,5,10,15,20], yt:[0,0.02,0.04,0.06,0.08,0.1,0.12], yl:[0,0.04,0.08,0.12], yd:2},
    {xt:[-2,0,2,4,6,8,10,12], yt:[0,0.05,0.1,0.15,0.2,0.25], yl:[0,0.1,0.2], yd:2},
    {xt:[-10,-5,0,5,10], yt:[0,0.02,0.04,0.06,0.08,0.1], yl:[0,0.04,0.08], yd:2},
    {xt:[-10,-5,0,5,10,15], yt:[0,0.02,0.04,0.06,0.08,0.1,0.12], yl:[0,0.04,0.08,0.12], yd:2},
    {xt:[0,2,4,6,8,10,12], yt:[0,0.05,0.1,0.15,0.2,0.25], yl:[0,0.1,0.2], yd:2},
    {xt:[-10,-5,0,5,10,15], yt:[0,0.02,0.04,0.06,0.08,0.1], yl:[0,0.04,0.08], yd:2},
    {xt:[-10,-5,0,5,10,15,20], yt:[0,0.02,0.04,0.06,0.08,0.1,0.12], yl:[0,0.04,0.08,0.12], yd:2},
    {xt:[0,2,4,6,8,10,12], yt:[0,0.05,0.1,0.15,0.2,0.25,0.3], yl:[0,0.1,0.2,0.3], yd:2}
  ]
};
// axis ranges (R style, 4% extended)
const LIM = {
  r1: [[22.85,49.84,22.83,47.67],[4.83,35.84,-12.8,38.4],[-0.23,19.48,-13.1,20.2],[29.9,49.4,35.0,46.9],[7.3,33.3,-3.6,34.5],[13.43,18.95,-3.7,19.85],[29.98,49.3,33.9,45.65],[4.67,35.23,-8.2,37.4],[14.87,18.91,4.7,19.5]],
  r2: [[22.8,50.1,-0.0154,0.395],[-12.2,38.1,-0.0395,1.027],[-13.5,20.9,-0.0396,1.03],[30.0,49.4,-0.0097,0.2527],[-3.6,34.3,-0.039,1.014],[-3.4,19.8,-0.0396,1.03],[30.0,49.4,-0.006,0.155],[-8.0,37.3,-0.039,1.014],[4.7,19.27,-0.0396,1.03]],
  r3: [[-12.0,17.7,-0.0046,0.1206],[-11.4,20.7,-0.005,0.1297],[-2.56,12.56,-0.011,0.283],[-14.2,13.6,-0.0044,0.1154],[-12.7,19.0,-0.005,0.129],[-0.48,12.48,-0.0114,0.296],[-14.0,15.2,-0.0046,0.1194],[-10.9,22.5,-0.005,0.129],[-0.48,12.48,-0.0135,0.351]]
};

// ---------- layout & style ----------
const SANS = "'Liberation Sans', Arial, Helvetica, sans-serif";
const SERIF = "'Liberation Serif', 'Times New Roman', serif";
const X0 = 62.7, PX = 238.3, Y0 = 48, PY = 238, BW = 168, BH = 134;
const MAG = '#ff00ff';

const pairs = a => { const r = []; for (let i = 0; i < a.length; i += 2) r.push([a[i], a[i + 1]]); return r; };
const fmt = (v, d) => { const s = Math.abs(v).toFixed(d); return v < -1e-12 ? '\u2212' + s : s; };

const grids = [], xAxes = [], yAxes = [], series = [], graphics = [];

function axis(dim, i, min, max, ticks, labels, dec) {
  return {
    type: 'value', gridIndex: i, min: min, max: max,
    axisLine: {show: false, onZero: false}, splitLine: {show: false}, splitArea: {show: false},
    axisTick: {show: true, inside: false, length: 5, customValues: ticks, lineStyle: {color: '#000', width: 1}},
    axisLabel: {show: true, customValues: labels, hideOverlap: false, margin: dim === 'x' ? 11 : 9,
      rotate: dim === 'y' ? 90 : 0, fontSize: 9.5, fontFamily: SANS, color: '#000',
      formatter: v => fmt(v, dec)}
  };
}
function text(x, y, str, size, extra) {
  graphics.push(Object.assign({type: 'text', x: x, y: y, silent: true,
    style: Object.assign({text: str, fontSize: size, fontFamily: SANS, fill: '#000', align: 'center', verticalAlign: 'middle'}, (extra && extra.style) || {})},
    extra && extra.rotation ? {rotation: extra.rotation} : {}));
}
const mathText = {PB: '{i|P}{s|B}{r|[}{i|log}{r|]}', Itm: '{i|I}{s|tm}{r|[}{i|log}{r|]}', DI: '{r|\u0394}{i|I}{r|[}{i|log}{r|]}'};
const titleShift = {PB: 12, Itm: 20, DI: 2};
function mathTitle(x, y, m) {
  graphics.push({type: 'text', x: x + titleShift[m], y: y, silent: true,
    style: {text: mathText[m], align: 'center', verticalAlign: 'middle', fill: '#000',
      rich: {
        i: {fontFamily: SERIF, fontStyle: 'italic', fontSize: 21, fill: '#000', color: '#000'},
        r: {fontFamily: SERIF, fontSize: 21, fill: '#000', color: '#000'},
        s: {fontFamily: SERIF, fontStyle: 'italic', fontSize: 14, fill: '#000', color: '#000', verticalAlign: 'top', padding: [14, 0, 0, 0]}
      }}});
}

function panel(row, col, opts) {
  const i = grids.length;
  const L = Math.round(X0 + col * PX), Tp = Y0 + row * PY;
  const lim = LIM['r' + (row + 1)][col], tk = T['r' + (row + 1)][col];
  grids.push({left: L, top: Tp, width: BW, height: BH, show: !opts.noBox, borderColor: '#000', borderWidth: 1,
    backgroundColor: 'transparent', containLabel: false, outerBoundsMode: 'none'});
  xAxes.push(axis('x', i, lim[0], lim[1], tk.xt, tk.xl || tk.xt, tk.xd || 0));
  yAxes.push(axis('y', i, lim[2], lim[3], tk.yt, tk.yl || tk.yt, tk.yd || 0));
  return {i: i, L: L, T: Tp, B: Tp + BH, cx: L + BW / 2, lim: lim, tk: tk};
}
function lineSeries(i, data, color, width, extra) {
  return Object.assign({type: 'line', xAxisIndex: i, yAxisIndex: i, data: data, showSymbol: false, symbol: 'none',
    smooth: 0.25, smoothMonotone: 'x', silent: true, animation: false, lineStyle: {color: color, width: width}}, extra || {});
}
function markLines(list) {
  return {silent: true, symbol: ['none', 'none'], animation: false, label: {show: false}, emphasis: {disabled: true}, data: list};
}
const zeroLine = {yAxis: 0, lineStyle: {color: '#bebebe', width: 1, type: 'solid'}};
const dotZero = {xAxis: 0, lineStyle: {color: '#8c8c8c', width: 1, type: [1.5, 2.5]}};
const dashMed = m => ({xAxis: m, lineStyle: {color: '#000', width: 1.1, type: [5, 4]}});

// ----- row 1: scatter -----
const scatterSets = [[sc_orp_pb, sc_orp_itm, sc_orp_di], [sc_oa_pb, sc_oa_itm, sc_oa_di], [sc_yoda_pb, sc_yoda_itm, sc_yoda_di]];
for (let c = 0; c < 9; c++) {
  const m = Math.floor(c / 3), k = c % 3;
  const p = panel(0, c, {});
  const big = (k === 0 && m > 0);
  series.push({type: 'scatter', xAxisIndex: p.i, yAxisIndex: p.i, data: pairs(scatterSets[m][k]), symbol: 'rect',
    symbolSize: big ? 2.6 : 2, itemStyle: {color: '#000'}, silent: true, animation: false});
  if (c === 0) series.push({type: 'scatter', xAxisIndex: p.i, yAxisIndex: p.i, data: pairs(sc_orp_pb_core), symbol: 'rect',
    symbolSize: 3.2, itemStyle: {color: '#000'}, silent: true, animation: false});
  mathTitle(p.cx, p.T - 23, measures[k]);
  text(p.cx, p.B + 38, 'TherMODO', 14);
  text(p.L - 41, p.T + BH / 2, comparators[m], 14, {rotation: Math.PI / 2});
  if (k === 2) text(p.cx, p.B + 49, 'black | colour = full calculation | heuristic', 9);
}
// ----- row 2: densities -----
const densSets = [
  [[dn_orp_pb_k, dn_orp_pb_m], [dn_orp_itm_k, dn_orp_itm_m], [dn_orp_di_k, dn_orp_di_m]],
  [[dn_oa_pb_k, dn_oa_pb_m], [dn_oa_itm_k, dn_oa_itm_m], [dn_oa_di_k, dn_oa_di_m]],
  [[dn_yoda_pb_k, dn_yoda_pb_m], [dn_yoda_itm_k, dn_yoda_itm_m], [dn_yoda_di_k, dn_yoda_di_m]]];
for (let c = 0; c < 9; c++) {
  const m = Math.floor(c / 3), k = c % 3;
  const p = panel(1, c, {});
  series.push(lineSeries(p.i, densSets[m][k][0], '#000', 1.2, {markLine: markLines([zeroLine]), z: 3}));
  series.push(lineSeries(p.i, densSets[m][k][1], MAG, 1.6, {z: 4}));
  mathTitle(p.cx, p.T - 23, measures[k]);
  text(p.L - 41, p.T + BH / 2, 'Density', 11, {rotation: Math.PI / 2});
  text(p.cx, p.B + 27, 'black | colour =', 11);
  text(p.cx, p.B + 40, 'TherMODO | ' + comparators[m], 11);
}
// ----- row 3: differences -----
const diffSets = [[df_orp_pb, df_orp_itm], [df_oa_pb, df_oa_itm], [df_yoda_pb, df_yoda_itm]];
const histSets = [[hist_breaks_orp, hist_orp], [hist_breaks_other, hist_oa], [hist_breaks_other, hist_yoda]];
for (let c = 0; c < 9; c++) {
  const m = Math.floor(c / 3), k = c % 3;
  const isHist = k === 2;
  const p = panel(2, c, {noBox: isHist});
  if (!isHist) {
    series.push(lineSeries(p.i, diffSets[m][k], '#000', 1.2, {markLine: markLines([zeroLine, dotZero, dashMed(medians[c])]), z: 3}));
  } else {
    const br = histSets[m][0], h = histSets[m][1];
    const bins = h.map((v, j) => [br[j], br[j + 1], v]);
    series.push({type: 'custom', xAxisIndex: p.i, yAxisIndex: p.i, data: bins, silent: true, animation: false, clip: false,
      encode: {x: [0, 1], y: 2},
      renderItem: (params, api) => {
        const a = api.coord([api.value(0), api.value(2)]), b = api.coord([api.value(1), 0]);
        return {type: 'rect', shape: {x: a[0], y: a[1], width: b[0] - a[0], height: b[1] - a[1]},
          style: {fill: 'none', stroke: '#000', lineWidth: 1}};
      }});
    const xt = p.tk.xt, yt = p.tk.yt;
    series.push(lineSeries(p.i, [[xt[0], p.lim[2]], [xt[xt.length - 1], p.lim[2]]], '#000', 1, {smooth: false, clip: false, z: 5,
      markLine: markLines([dotZero, dashMed(medians[c])])}));
    series.push(lineSeries(p.i, [[p.lim[0], yt[0]], [p.lim[0], yt[yt.length - 1]]], '#000', 1, {smooth: false, clip: false, z: 5}));
  }
  graphics.push({type: 'text', x: p.cx, y: p.T - 22, silent: true,
    style: {text: 'TherMODO minus\n' + comparators[m], fontSize: 20, fontWeight: 'bold', fontFamily: SANS, lineHeight: 21,
      fill: '#000', align: 'center', verticalAlign: 'middle'}});
  text(p.L - 41, p.T + BH / 2, 'Density', 11, {rotation: Math.PI / 2});
  text(p.cx, p.B + 37, bottomLines[c], 11);
  text(p.cx, p.B + 48, 'dashes = median', 9);
}

const chart = echarts.init(document.getElementById('c'), null, {renderer: 'canvas'});
chart.setOption({
  animation: false, backgroundColor: '#fff',
  grid: grids, xAxis: xAxes, yAxis: yAxes, series: series, graphic: {elements: graphics}
});
</script></body></html>
